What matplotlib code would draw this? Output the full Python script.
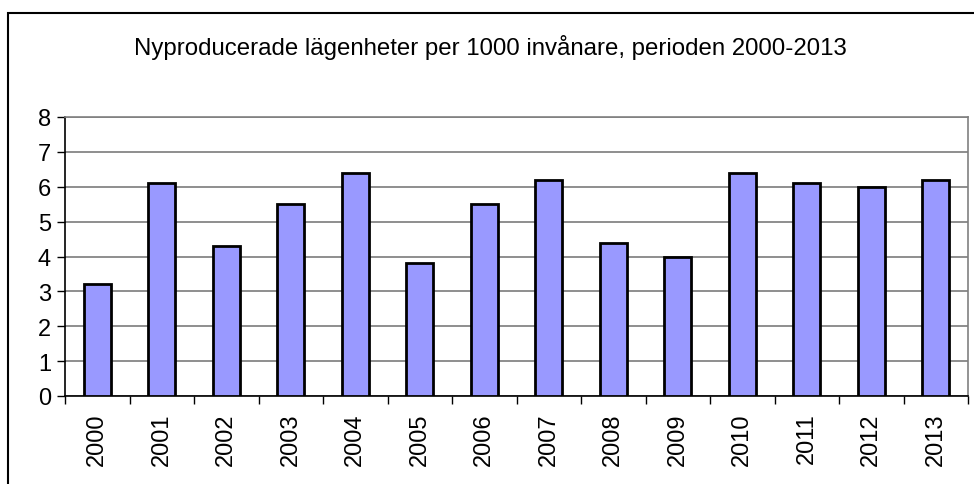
import matplotlib
matplotlib.use("Agg")
import matplotlib.pyplot as plt
from matplotlib.patches import Rectangle

# data
years = ["2000", "2001", "2002", "2003", "2004", "2005", "2006",
         "2007", "2008", "2009", "2010", "2011", "2012", "2013"]
values = [3.2, 6.1, 4.3, 5.5, 6.4, 3.8, 5.5, 6.2, 4.4, 4.0, 6.4, 6.1, 6.0, 6.2]
y_ticks = [0, 1, 2, 3, 4, 5, 6, 7, 8]
title = "Nyproducerade lägenheter per 1000 invånare, perioden 2000-2013"

plt.rcParams["font.family"] = ["Liberation Sans", "DejaVu Sans"]

fig = plt.figure(figsize=(9.74, 4.85), dpi=100)

# outer chart frame (only left and top edges fall inside the picture)
fig.patches.append(Rectangle((8 / 974, -0.1), 1.2, 1 - 14 / 485 + 0.1,
                             transform=fig.transFigure, fill=False,
                             edgecolor="black", linewidth=1.5))

ax = fig.add_axes([65 / 974, 1 - 397 / 485, 903 / 974, 279 / 485])

x = range(len(years))
ax.bar(x, values, width=0.42, color="#9999ff", edgecolor="black",
       linewidth=2.0, zorder=3)

ax.set_xlim(-0.5, len(years) - 0.5)
ax.set_ylim(0, 8)
ax.set_yticks(y_ticks)
ax.yaxis.grid(True, color="#707070", linewidth=1.1, zorder=0)

# ticks between categories, labels under each bar
ax.set_xticks([i - 0.5 for i in range(len(years) + 1)])
ax.set_xticklabels([])
ax.set_xticks(list(x), minor=True)
ax.set_xticklabels(years, minor=True, rotation=90, fontsize=17)
ax.tick_params(axis="x", which="minor", length=0, pad=12)
ax.tick_params(axis="x", which="major", length=6, width=1, color="black")
ax.tick_params(axis="y", length=6, width=1, labelsize=17, pad=4)

for side in ["top", "right"]:
    ax.spines[side].set_color("#808080")
    ax.spines[side].set_linewidth(1.2)
for side in ["left", "bottom"]:
    ax.spines[side].set_color("black")
    ax.spines[side].set_linewidth(1.2)

fig.text(490 / 974, 1 - 47 / 485, title, ha="center", va="center",
         fontsize=17.3)

fig.savefig("out.png", dpi=100)
